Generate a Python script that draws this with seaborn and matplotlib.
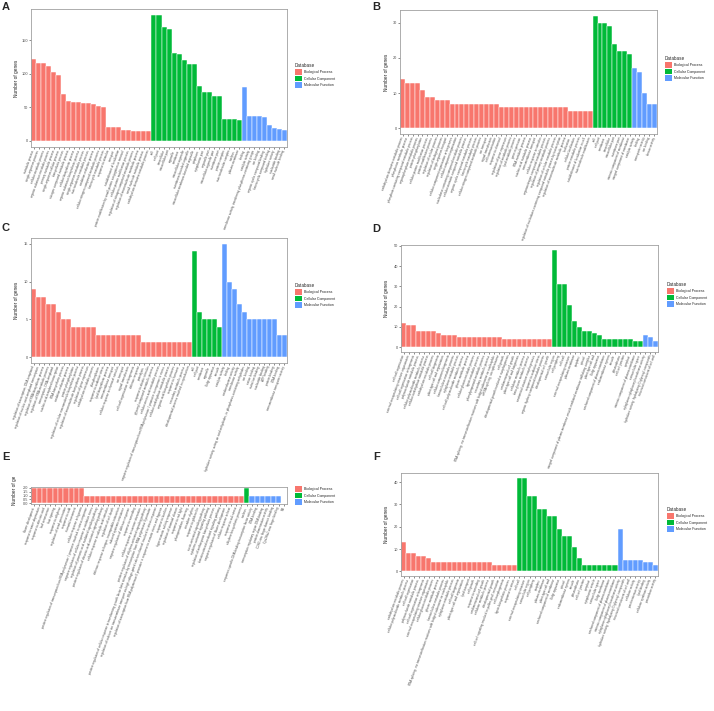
import numpy as np
import pandas as pd
import seaborn as sns
import matplotlib.pyplot as plt
from matplotlib.patches import Patch
from matplotlib.transforms import Bbox, TransformedBbox

sns.set_theme(style="white")
plt.rcParams["font.family"] = ["Liberation Sans", "DejaVu Sans"]

DB = ["Biological Process", "Cellular Component", "Molecular Function"]
PALETTE = dict(zip(DB, ["#F8766D", "#00BA38", "#619CFF"]))

# ---------------- panel A ----------------
A_bp_terms = [
    "metabolic process", "single-organism process", "cellular metabolic process",
    "organic substance metabolic process", "primary metabolic process",
    "single-organism cellular process", "biosynthetic process",
    "nitrogen compound metabolic process", "cellular biosynthetic process",
    "organic substance biosynthetic process", "single-organism metabolic process",
    "macromolecule metabolic process", "oxidation-reduction process",
    "cellular nitrogen compound metabolic process", "heterocycle metabolic process",
    "response to stimulus", "transport", "establishment of localization",
    "protein modification by small protein conjugation or removal",
    "cellular protein modification process",
    "regulation of nitrogen compound metabolic process",
    "regulation of macromolecule metabolic process",
    "small molecule metabolic process", "carbohydrate derivative metabolic process"]
A_bp_counts = [122, 116, 116, 112, 103, 98, 69, 59, 58, 57, 56, 56, 55, 52, 51,
               21, 21, 20, 16, 16, 15, 15, 14, 14]
A_cc_terms = [
    "cell", "cell part", "intracellular", "intracellular part", "organelle",
    "membrane", "intracellular organelle", "membrane-bounded organelle",
    "intracellular membrane-bounded organelle", "cytoplasm", "cytoplasmic part",
    "organelle part", "intracellular organelle part", "membrane part",
    "protein complex", "macromolecular complex", "nucleus", "plasma membrane"]
A_cc_counts = [187, 187, 169, 166, 131, 129, 120, 115, 114, 82, 73, 73, 67, 66,
               33, 33, 33, 31]
A_mf_terms = [
    "binding", "catalytic activity",
    "transferase activity, transferring phosphorus-containing groups",
    "ion binding", "organic cyclic compound binding", "heterocyclic compound binding",
    "hydrolase activity", "nucleotide binding", "small molecule binding"]
A_mf_counts = [80, 37, 37, 37, 35, 23, 19, 17, 16]

# ---------------- panel B ----------------
B_bp_terms = [
    "carbohydrate derivative metabolic process", "phosphorus metabolic process",
    "phosphate-containing compound metabolic process",
    "organophosphate metabolic process", "protein phosphorylation",
    "cellular protein modification process", "protein modification process",
    "regulation of cellular process", "regulation of biological process",
    "single-organism transport", "cellular component organization or biogenesis",
    "cellular component organization",
    "nucleobase-containing compound metabolic process",
    "cellular aromatic compound metabolic process",
    "organic cyclic compound metabolic process", "heterocycle metabolic process",
    "cellular nitrogen compound metabolic process", "ion transport",
    "signal transduction", "cell communication", "response to chemical",
    "regulation of gene expression", "regulation of metabolic process",
    "lipid metabolic process", "gene expression", "RNA metabolic process",
    "nucleic acid metabolic process", "transmembrane transport",
    "cellular response to stimulus", "organonitrogen compound metabolic process",
    "regulation of primary metabolic process",
    "regulation of cellular metabolic process",
    "regulation of nucleobase-containing compound metabolic process by transcription",
    "regulation of macromolecule metabolic process", "localization",
    "cellular localization", "protein metabolic process",
    "establishment of localization in cell", "macromolecule modification"]
B_bp_counts = [14, 13, 13, 13, 11, 9, 9, 8, 8, 8,
               7, 7, 7, 7, 7, 7, 7, 7, 7, 7,
               6, 6, 6, 6, 6, 6, 6, 6, 6, 6, 6, 6, 6, 6,
               5, 5, 5, 5, 5]
B_cc_terms = ["cell", "cell part", "membrane", "intracellular", "intracellular part",
              "membrane part", "intrinsic component of membrane",
              "integral component of membrane"]
B_cc_counts = [32, 30, 30, 29, 24, 22, 22, 21]
B_mf_terms = ["catalytic activity", "binding", "transporter activity", "ion binding",
              "kinase activity"]
B_mf_counts = [17, 16, 10, 7, 7]

# ---------------- panel C ----------------
C_bp_terms = [
    "regulation of transcription, DNA-templated",
    "regulation of nucleic acid-templated transcription",
    "regulation of RNA biosynthetic process", "regulation of RNA metabolic process",
    "transcription, DNA-templated", "nucleic acid-templated transcription",
    "RNA biosynthetic process", "oxidation-reduction process",
    "protein phosphorylation",
    "regulation of cellular macromolecule biosynthetic process",
    "regulation of macromolecule biosynthetic process",
    "regulation of gene expression", "carbohydrate metabolic process",
    "phosphorylation", "response to oxidative stress", "lipid biosynthetic process",
    "transmembrane transport", "cellular response to chemical stimulus",
    "ion transport", "signal transduction", "cell wall organization or biogenesis",
    "defense response", "proteolysis", "response to abiotic stimulus",
    "glycosyl compound metabolic process", "cellular amino acid metabolic process",
    "negative regulation of transcription from RNA polymerase II promoter in response to stress",
    "cellular carbohydrate metabolic process", "organic acid biosynthetic process",
    "response to hormone", "secondary metabolic process",
    "developmental process involved in reproduction"]
C_bp_counts = [9, 8, 8, 7, 7, 6, 5, 5, 4, 4, 4, 4, 4,
               3, 3, 3, 3, 3, 3, 3, 3, 3,
               2, 2, 2, 2, 2, 2, 2, 2, 2, 2]
C_cc_terms = ["cell", "cell part", "membrane", "organelle", "Golgi apparatus", "vacuole"]
C_cc_counts = [14, 6, 5, 5, 5, 4]
C_mf_terms = [
    "catalytic activity", "binding", "oxidoreductase activity", "transferase activity",
    "hydrolase activity, acting on acid anhydrides, in phosphorus-containing anhydrides",
    "ion binding", "cation binding", "metal ion binding", "nucleotide binding",
    "ATP binding", "protein binding", "DNA binding", "transmembrane transporter activity"]
C_mf_counts = [15, 10, 9, 7, 6, 5, 5, 5, 5, 5, 5, 3, 3]

# ---------------- panel D ----------------
D_bp_terms = [
    "cell wall organization", "external encapsulating structure organization",
    "cell wall organization or biogenesis", "polysaccharide metabolic process",
    "cellular polysaccharide metabolic process",
    "cellular carbohydrate metabolic process", "carbohydrate metabolic process",
    "cell wall biogenesis", "plant-type cell wall organization",
    "cellular component biogenesis", "hemicellulose metabolic process",
    "xyloglucan metabolic process", "cell wall polysaccharide metabolic process",
    "glucan metabolic process", "cellular glucan metabolic process",
    "lignin metabolic process", "phenylpropanoid metabolic process",
    "secondary metabolic process",
    "RNA splicing, via transesterification reactions with bulged adenosine as nucleophile",
    "mRNA splicing, via spliceosome", "cell growth",
    "developmental growth involved in morphogenesis", "unidimensional cell growth",
    "plant-type cell wall biogenesis", "cellulose metabolic process",
    "beta-glucan metabolic process", "anatomical structure morphogenesis",
    "response to oxidative stress", "organic hydroxy compound metabolic process",
    "developmental cell growth"]
D_bp_counts = [12, 11, 11, 8, 8, 8, 8, 7, 6, 6, 6,
               5, 5, 5, 5, 5, 5, 5, 5, 5,
               4, 4, 4, 4, 4, 4, 4, 4, 4, 4]
D_cc_terms = [
    "extracellular region", "cell periphery", "cell wall",
    "external encapsulating structure", "plasma membrane", "apoplast", "cytosol",
    "integral component of plasma membrane vesicle-mediated membrane trafficking complex",
    "plant-type cell wall", "Golgi apparatus", "anchored component of plasma membrane",
    "endomembrane system", "vacuole", "plasmodesma", "cell-cell junction", "symplast",
    "intrinsic component of plasma membrane", "extracellular space"]
D_cc_counts = [48, 31, 31, 21, 13, 10, 8, 8, 7, 6, 4, 4, 4, 4, 4, 4, 3, 3]
D_mf_terms = ["xyloglucan:xyloglucosyl transferase activity",
              "hydrolase activity, hydrolyzing O-glycosyl compounds",
              "structural constituent of cell wall"]
D_mf_counts = [6, 5, 3]

# ---------------- panel E ----------------
E_bp_terms = [
    "flower development", "response to water deprivation", "response to abscisic acid",
    "leaf senescence", "fruit ripening", "response to ethylene",
    "regulation of seed germination", "response to cold", "stomatal movement",
    "cellular response to hypoxia",
    "positive regulation of transcription from RNA polymerase II promoter involved in stress response",
    "negative regulation of cellular response to oxidative stress",
    "regulation of jasmonic acid mediated signaling pathway",
    "positive regulation of abscisic acid-activated signaling pathway",
    "cellular response to salicylic acid stimulus", "regulation of cell death",
    "defense response to fungus, incompatible interaction",
    "induced systemic resistance", "negative regulation of defense response",
    "response to wounding", "cellular response to sucrose starvation",
    "positive regulation of ethylene-activated signaling pathway",
    "positive regulation of cellular response to transforming growth factor beta stimulus by transcription from RNA polymerase II promoter",
    "regulation of calcium ion transmembrane transport via high voltage-gated calcium channel involved in stress response",
    "regulation of transcription from RNA polymerase II promoter in response to osmotic stress and hypoxia",
    "response to karrikin", "hyperosmotic salinity response",
    "regulation of stomatal closure", "response to red light",
    "photoperiodism, flowering", "circadian rhythm", "response to gibberellin",
    "auxin-activated signaling pathway", "cytokinin-activated signaling pathway",
    "regulation of anthocyanin biosynthetic process",
    "brassinosteroid mediated signaling pathway",
    "negative regulation of flower development", "cellular response to heat",
    "response to salt stress", "ethylene biosynthetic process"]
E_bp_counts = [2, 2, 2, 2, 2, 2, 2, 2, 2, 2,
               1, 1, 1, 1, 1, 1, 1, 1, 1, 1, 1, 1, 1, 1, 1,
               1, 1, 1, 1, 1, 1, 1, 1, 1, 1, 1, 1, 1, 1, 1]
E_cc_terms = ["nucleus"]
E_cc_counts = [2]
E_mf_terms = ["sequence-specific DNA binding transcription factor activity",
              "DNA binding", "transcription regulatory region DNA binding",
              "protein dimerization activity", "C2H2 zinc finger domain binding",
              "Cys2His2 zinc finger binding", "NA"]
E_mf_counts = [1, 1, 1, 1, 1, 1, np.nan]

# ---------------- panel F ----------------
F_bp_terms = [
    "carbohydrate metabolic process", "cellular polysaccharide metabolic process",
    "cell wall organization", "polysaccharide metabolic process",
    "cell wall organization or biogenesis",
    "external encapsulating structure organization",
    "cellular glucan metabolic process", "glucan metabolic process",
    "hemicellulose metabolic process",
    "RNA splicing, via transesterification reactions with bulged adenosine as nucleophile",
    "xyloglucan metabolic process", "cell wall biogenesis",
    "plant-type cell wall organization", "lipid transport", "cell growth",
    "response to wounding", "unidimensional cell growth", "cellulose metabolic process",
    "developmental growth",
    "cell-cell signaling involved in pollen-pistil interaction",
    "cell morphogenesis", "lignin biosynthetic process", "response to stress"]
F_bp_counts = [13, 8, 8, 7, 7, 6, 4, 4, 4, 4, 4, 4, 4, 4, 4, 4, 4, 4,
               3, 3, 3, 3, 3]
F_cc_terms = [
    "cell wall", "external encapsulating structure", "extracellular region",
    "cell periphery", "apoplast", "plasma membrane", "plant-type cell wall",
    "anchored component of membrane", "Golgi apparatus", "cytosol",
    "endomembrane system", "vacuole", "plasmodesma", "cell-cell junction", "symplast",
    "cytoplasmic vesicle", "extracellular space", "Golgi membrane",
    "anchored component of plasma membrane", "intrinsic component of plasma membrane"]
F_cc_counts = [42, 42, 34, 34, 28, 28, 25, 25, 19, 16, 16, 11, 6,
               3, 3, 3, 3, 3, 3, 3]
F_mf_terms = ["xyloglucan:xyloglucosyl transferase activity",
              "hydrolase activity, hydrolyzing O-glycosyl compounds",
              "structural constituent of cell wall", "cellulase activity",
              "pectinesterase activity", "lipid binding", "cellulose synthase activity",
              "peroxidase activity"]
F_mf_counts = [19, 5, 5, 5, 5, 4, 4, 3]


def make_df(bp_t, bp_c, cc_t, cc_c, mf_t, mf_c):
    return pd.DataFrame({
        "term": bp_t + cc_t + mf_t,
        "count": bp_c + cc_c + mf_c,
        "Database": [DB[0]] * len(bp_t) + [DB[1]] * len(cc_t) + [DB[2]] * len(mf_t),
    })


W, H = 714, 711
fig = plt.figure(figsize=(W / 100, H / 100), dpi=100)

# (letter, df, yticks, ymax, axes box l,t,r,b in px, letter pos, ylabel x px, legend x,y px, legend title)
panels = [
    ("A", make_df(A_bp_terms, A_bp_counts, A_cc_terms, A_cc_counts, A_mf_terms, A_mf_counts),
     [0, 50, 100, 150], 187, (31, 9, 287, 147), (2, 2), 19, (295, 63), "Database"),
    ("B", make_df(B_bp_terms, B_bp_counts, B_cc_terms, B_cc_counts, B_mf_terms, B_mf_counts),
     [0, 10, 20, 30], 32, (400, 10, 657, 134), (372, 2), 389, (665, 56), "Database"),
    ("C", make_df(C_bp_terms, C_bp_counts, C_cc_terms, C_cc_counts, C_mf_terms, C_mf_counts),
     [0, 5, 10, 15], 15, (31, 238, 287, 363), (2, 223), 19, (295, 283), "Database"),
    ("D", make_df(D_bp_terms, D_bp_counts, D_cc_terms, D_cc_counts, D_mf_terms, D_mf_counts),
     [0, 10, 20, 30, 40, 50], 48, (401, 245, 658, 352), (372, 224), 389, (667, 282), "Database"),
    ("E", make_df(E_bp_terms, E_bp_counts, E_cc_terms, E_cc_counts, E_mf_terms, E_mf_counts),
     [0.0, 0.5, 1.0, 1.5, 2.0], 2, (31, 487, 287, 504), (2, 452), 17, (295, 486), None),
    ("F", make_df(F_bp_terms, F_bp_counts, F_cc_terms, F_cc_counts, F_mf_terms, F_mf_counts),
     [0, 10, 20, 30, 40], 42, (401, 473, 658, 576), (373, 452), 389, (667, 507), "Database"),
]

for letter, df, yticks, ymax, (l, t, r, b), (lx, ly), ylx, (gx, gy), gtitle in panels:
    ax = fig.add_axes([l / W, 1 - b / H, (r - l) / W, (b - t) / H])
    n = len(df)
    sns.barplot(data=df, x="term", y="count", hue="Database", hue_order=DB,
                order=list(df["term"]), palette=PALETTE, dodge=False, width=1.0,
                saturation=1, edgecolor="white", linewidth=0.35, errorbar=None,
                legend=False, ax=ax)
    ax.set_xlim(-0.55, n - 0.45)
    ax.set_ylim(-0.05 * ymax, 1.05 * ymax)
    ax.set_yticks(yticks)
    if letter == "E":
        ax.set_yticklabels([f"{v:.1f}" for v in yticks])
    ax.set_xticks(range(n))
    ax.set_xticklabels(df["term"], rotation=70, ha="right", va="center",
                       rotation_mode="anchor", fontsize=2.2, color="#4d4d4d")
    ax.tick_params(axis="y", labelsize=2.8, labelcolor="#4d4d4d")
    ax.tick_params(axis="both", length=1.5, width=0.4, color="#333333", pad=0.8,
                   bottom=True, left=True)
    for s in ax.spines.values():
        s.set_visible(True)
        s.set_color("#a0a0a0")
        s.set_linewidth(0.6)
    ax.set_xlabel("")
    ax.set_ylabel("Number of genes", fontsize=3.4, color="#222222")
    if letter == "E":
        # the reference label runs out of room and is cut at the top
        ax.yaxis.set_label_coords((ylx - l) / (r - l), (b - 486) / (b - t))
        clip = TransformedBbox(Bbox.from_extents(0, 1 - 530 / H, 1, 1 - 477 / H),
                               fig.transFigure)
        ax.yaxis.label.set_clip_box(clip)
        ax.yaxis.label.set_clip_on(True)
    else:
        ax.yaxis.set_label_coords((ylx - l) / (r - l), 0.5)

    handles = [Patch(facecolor=PALETTE[d], edgecolor="none") for d in DB]
    ax.legend(handles, DB, loc="upper left", bbox_to_anchor=(gx / W, 1 - gy / H),
              bbox_transform=fig.transFigure, frameon=False, fontsize=2.5,
              title=gtitle, title_fontsize=3.3, handlelength=2.1,
              handleheight=2.1, labelspacing=0.3, borderpad=0,
              handletextpad=0.4, borderaxespad=0, alignment="left")

    fig.text(lx / W, 1 - ly / H, letter, fontsize=8, fontweight="bold",
             ha="left", va="top", family=["Liberation Sans", "DejaVu Sans"])

fig.savefig("out.png", dpi=100)
